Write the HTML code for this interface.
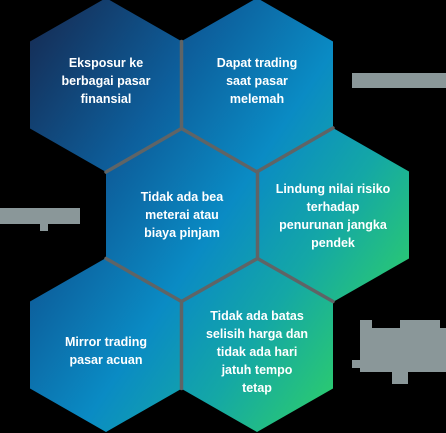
<!DOCTYPE html>
<html><head><meta charset="utf-8">
<style>
html,body{margin:0;padding:0;background:#000;}
svg{display:block;}
text{font-family:"Liberation Sans",sans-serif;font-weight:bold;font-size:12.5px;fill:#fff;text-anchor:middle;}
</style></head>
<body>
<svg width="446" height="433" viewBox="0 0 446 433" xmlns="http://www.w3.org/2000/svg">
<defs>
<linearGradient id="g" gradientUnits="userSpaceOnUse" x1="30" y1="40" x2="420" y2="300">
<stop offset="0" stop-color="#15305a"/>
<stop offset="0.3" stop-color="#0d5f9c"/>
<stop offset="0.55" stop-color="#0a8bc4"/>
<stop offset="0.75" stop-color="#14a7a6"/>
<stop offset="1" stop-color="#2fd067"/>
</linearGradient>
</defs>
<rect width="446" height="433" fill="#000"/>
<g fill="url(#g)">
<polygon points="106,-2 182,41.5 182,128.5 106,172 30,128.5 30,41.5"/>
<polygon points="257,-2 333,41.5 333,128.5 257,172 181,128.5 181,41.5"/>
<polygon points="182,128 258,171.5 258,258.5 182,302 106,258.5 106,171.5"/>
<polygon points="333,128 409,171.5 409,258.5 333,302 257,258.5 257,171.5"/>
<polygon points="106,258 182,301.5 182,388.5 106,432 30,388.5 30,301.5"/>
<polygon points="257,258 333,301.5 333,388.5 257,432 181,388.5 181,301.5"/>
</g>
<g stroke="#5f6466" stroke-width="3.5" fill="none" stroke-linecap="round">
<line x1="181.5" y1="41.5" x2="181.5" y2="128.5"/>
<line x1="181.5" y1="128.5" x2="106" y2="172"/>
<line x1="181.5" y1="128.5" x2="257" y2="172"/>
<line x1="257.5" y1="171.5" x2="333" y2="128"/>
<line x1="257.5" y1="171.5" x2="257.5" y2="258.5"/>
<line x1="106" y1="258.5" x2="181.5" y2="301.5"/>
<line x1="181.5" y1="301.5" x2="257.5" y2="258.5"/>
<line x1="257.5" y1="258.5" x2="333" y2="301.5"/>
<line x1="181.5" y1="301.5" x2="181.5" y2="388.5"/>
</g>
<g fill="#8a9799">
<rect x="352" y="73" width="94" height="15"/>
<rect x="0" y="208" width="80" height="16"/>
<rect x="40" y="224" width="8" height="7"/>
<rect x="360" y="320" width="12" height="8"/>
<rect x="400" y="320" width="40" height="8"/>
<rect x="360" y="328" width="86" height="44"/>
<rect x="352" y="360" width="10" height="8"/>
<rect x="392" y="372" width="16" height="12"/>
</g>
<text x="106" y="67">Eksposur ke</text>
<text x="106" y="85">berbagai pasar</text>
<text x="106" y="103">finansial</text>
<text x="257" y="67">Dapat trading</text>
<text x="257" y="85">saat pasar</text>
<text x="257" y="103">melemah</text>
<text x="182" y="201">Tidak ada bea</text>
<text x="182" y="219">meterai atau</text>
<text x="182" y="237">biaya pinjam</text>
<text x="333" y="193">Lindung nilai risiko</text>
<text x="333" y="211">terhadap</text>
<text x="333" y="229">penurunan jangka</text>
<text x="333" y="247">pendek</text>
<text x="106" y="346">Mirror trading</text>
<text x="106" y="364">pasar acuan</text>
<text x="257" y="320">Tidak ada batas</text>
<text x="257" y="338">selisih harga dan</text>
<text x="257" y="356">tidak ada hari</text>
<text x="257" y="374">jatuh tempo</text>
<text x="257" y="392">tetap</text>
</svg>
</body></html>
